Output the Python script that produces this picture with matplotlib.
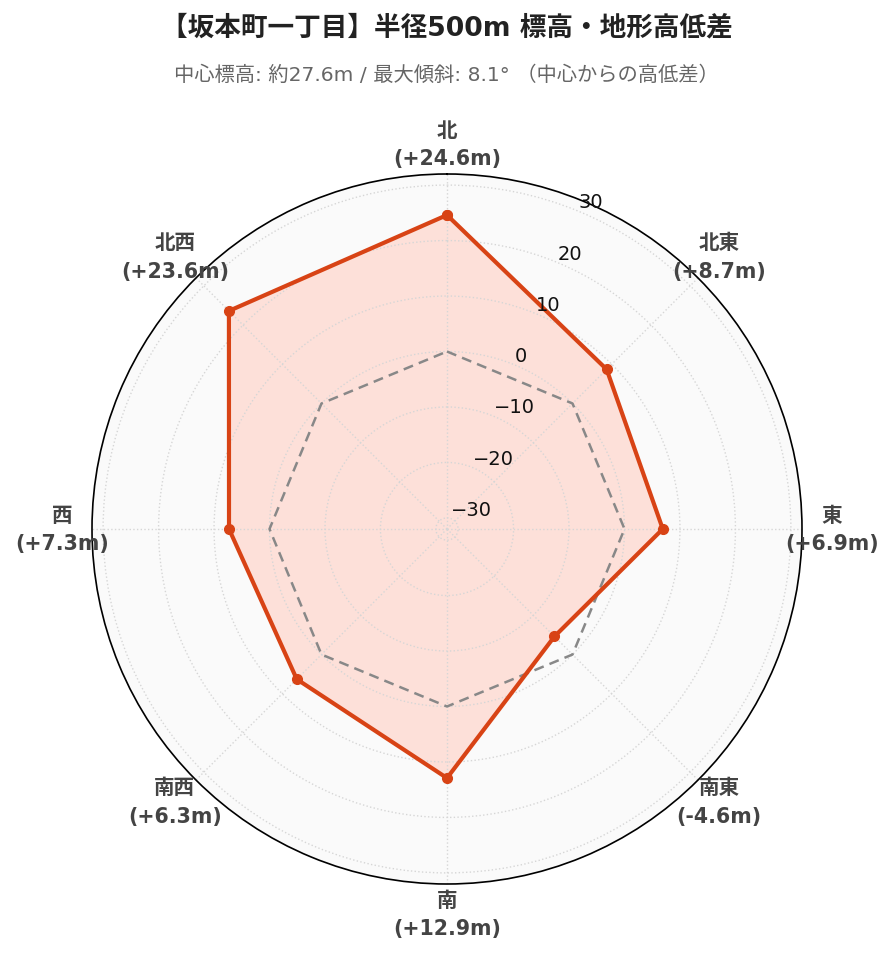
import numpy as np
import matplotlib
matplotlib.use("Agg")
import matplotlib.pyplot as plt

plt.rcParams['font.family'] = ['DejaVu Sans', 'Noto Sans CJK JP']

directions = ['北', '北東', '東', '南東', '南', '南西', '西', '北西']
diffs = [24.6, 8.7, 6.9, -4.6, 12.9, 6.3, 7.3, 23.6]
angles_deg = [0, 45, 90, 135, 180, 225, 270, 315]
r_ticks = [-30, -20, -10, 0, 10, 20, 30]
r_range = (-32, 32)

title = '【坂本町一丁目】半径500m 標高・地形高低差'
subtitle = '中心標高: 約27.6m / 最大傾斜: 8.1° （中心からの高低差）'

line_color = '#d84315'
fill_color = '#fde0d9'

theta = np.deg2rad(angles_deg)
theta_c = np.append(theta, theta[0])
vals_c = np.append(diffs, diffs[0])

fig = plt.figure(figsize=(8.93, 9.62), dpi=100)
ax = fig.add_axes([92 / 893, 77 / 962, 710 / 893, 710 / 962], projection='polar')
ax.set_theta_zero_location('N')
ax.set_theta_direction(-1)
ax.set_facecolor('#fafafa')
ax.set_ylim(*r_range)

ax.fill(theta_c, vals_c, color=fill_color, lw=0, zorder=1)
ax.plot(theta_c, np.zeros_like(theta_c), color='#888888', lw=1.8, ls=(0, (4, 2.5)), zorder=3)
ax.plot(theta_c, vals_c, color=line_color, lw=3, marker='o', ms=7, zorder=4)

# angular labels
ax.set_xticks(theta)
ax.set_xticklabels([])
for a, d, v in zip(theta, directions, diffs):
    ax.text(a, 37.4, f'{d}\n({v:+.1f}m)', ha='center', va='center', fontsize=14.8,
            fontweight='bold', color='#444444', linespacing=1.55, clip_on=False)

# radial labels
ax.set_yticks(r_ticks)
ax.set_yticklabels([])
for t in r_ticks:
    ax.text(np.deg2rad(22.5), t, f'{t}'.replace('-', '\u2212'), ha='left', va='bottom',
            fontsize=14, color='#111111', zorder=5)

ax.grid(True, color='#d6d6d6', ls=':', lw=1)
ax.spines['polar'].set_color('black')
ax.spines['polar'].set_linewidth(1.2)

fig.text(0.5, 1 - 28 / 962, title, ha='center', va='center', fontsize=19.2, fontweight='bold', color='#222222')
fig.text(0.5, 1 - 75 / 962, subtitle, ha='center', va='center', fontsize=14.6, color='#666666')

fig.savefig('out.png', dpi=100)
